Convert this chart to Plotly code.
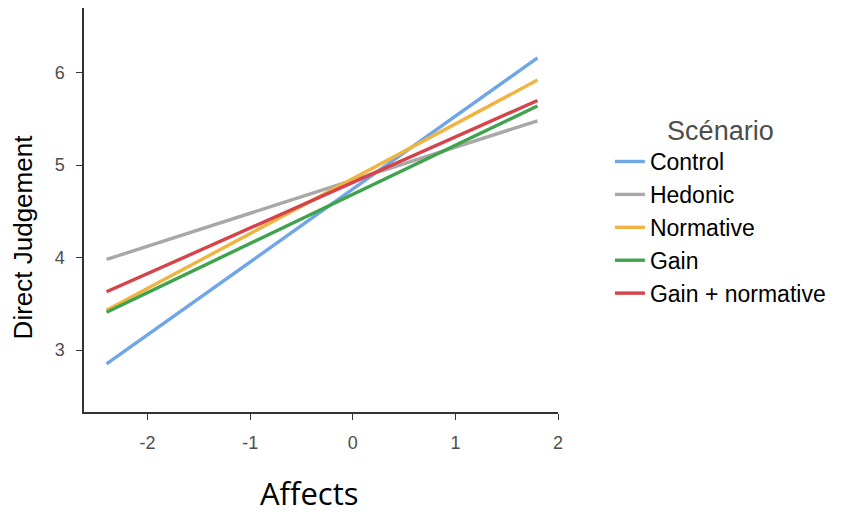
import plotly.graph_objects as go

x_ends = [-2.4, 1.8]
scenarios = ["Control", "Hedonic", "Normative", "Gain", "Gain + normative"]
y_start = [2.85, 3.98, 3.43, 3.41, 3.63]
y_end = [6.16, 5.48, 5.92, 5.64, 5.70]
colors = ["#70A6E6", "#A8A8A8", "#F0B440", "#3FA34D", "#D6434A"]

fig = go.Figure()
for name, y0, y1, c in zip(scenarios, y_start, y_end, colors):
    fig.add_trace(go.Scatter(x=x_ends, y=[y0, y1], mode="lines", name=name,
                             line=dict(color=c, width=3.4)))

axis_common = dict(showgrid=False, zeroline=False, showline=True, linecolor="#333",
                   linewidth=1.5, ticks="outside", ticklen=6, tickcolor="#333",
                   tickfont=dict(size=18, color="#4d4d4d"), ticklabelstandoff=8)

fig.update_layout(
    width=851, height=514,
    margin=dict(l=76, r=301, t=0, b=110),
    plot_bgcolor="white", paper_bgcolor="white",
    font=dict(family="Liberation Sans", color="black"),
    xaxis=dict(range=[-2.62, 2.0], tickvals=[-2, -1, 0, 1, 2],
               ticktext=["-2", "-1", "0", "1", "2"], **axis_common),
    yaxis=dict(range=[2.33, 6.7], tickvals=[3, 4, 5, 6], **axis_common),
    legend=dict(x=1.1095, y=0.76, xanchor="left", yanchor="top",
                title=dict(text="Scénario", side="top center",
                           font=dict(size=27, color="#4d4d4d")),
                font=dict(size=23), tracegroupgap=0, itemwidth=30),
)

# axis titles as annotations (the original sits off-centre)
fig.add_annotation(text="Affects", xref="paper", yref="paper", x=0.4747, y=-0.2,
                   xanchor="center", yanchor="middle", showarrow=False,
                   font=dict(size=31, family="Open Sans", color="black"))
fig.add_annotation(text="Direct Judgement", xref="paper", yref="paper", x=-0.128, y=0.433,
                   xanchor="center", yanchor="middle", showarrow=False, textangle=-90,
                   font=dict(size=26, color="black"))

fig.write_html("out.html")
